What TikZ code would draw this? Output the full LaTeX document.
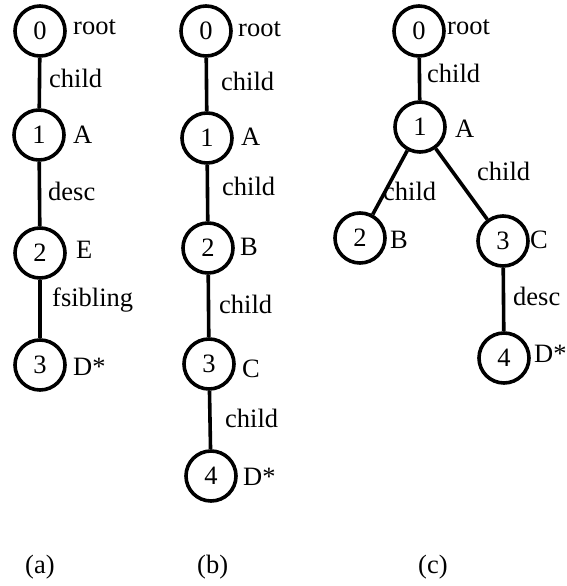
\documentclass[tikz,border=0pt]{standalone}
\usepackage{fontspec}
\setmainfont{Liberation Serif}
\begin{document}
\begin{tikzpicture}[x=1pt,y=-1pt,
  every node/.style={font=\fontsize{26.5}{30}\selectfont},
  vtx/.style={circle,draw,line width=3.6pt,minimum size=50pt,inner sep=0pt},
  lbl/.style={anchor=base west,inner sep=0pt},
  link/.style={line width=3.6pt}]
\useasboundingbox (0,0) rectangle (566,586);

% (a): root -child- A -desc- E -fsibling- D*
\node[vtx] (a0) at (40,31) {0};
\node[vtx] (a1) at (39,135) {1};
\node[vtx] (a2) at (40,253) {2};
\node[vtx] (a3) at (40,365) {3};
\draw[link] (a0) -- (a1);
\draw[link] (a1) -- (a2);
\draw[link] (a2) -- (a3);
\node[lbl] (a0t) at (73,35) {root};
\node[lbl] (a01) at (49,87) {child};
\node[lbl] (a1t) at (73,143) {A};
\node[lbl] (a12) at (48,200) {desc};
\node[lbl] (a2t) at (76,258) {E};
\node[lbl] (a23) at (52,306) {fsibling};
\node[lbl] (a3t) at (73,375) {D*};
\node[lbl] (capa) at (25,573) {(a)};

% (b): a chain of child edges
\node[vtx] (b0) at (206,31) {0};
\node[vtx] (b1) at (207,138) {1};
\node[vtx] (b2) at (208,248) {2};
\node[vtx] (b3) at (209,364) {3};
\node[vtx] (b4) at (211,476) {4};
\draw[link] (b0) -- (b1);
\draw[link] (b1) -- (b2);
\draw[link] (b2) -- (b3);
\draw[link] (b3) -- (b4);
\node[lbl] (b0t) at (238,37) {root};
\node[lbl] (b01) at (221,90) {child};
\node[lbl] (b1t) at (241,145) {A};
\node[lbl] (b12) at (222,195) {child};
\node[lbl] (b2t) at (240,255) {B};
\node[lbl] (b23) at (219,313) {child};
\node[lbl] (b3t) at (242,377) {C};
\node[lbl] (b34) at (225,427) {child};
\node[lbl] (b4t) at (243,485) {D*};
\node[lbl] (capb) at (197,573) {(b)};

% (c): branching tree
\node[vtx] (c0) at (419,31) {0};
\node[vtx] (c1) at (420,127) {1};
\node[vtx] (c2) at (360,238) {2};
\node[vtx] (c3) at (503,241) {3};
\node[vtx] (c4) at (504,358) {4};
\draw[link] (c0) -- (c1);
\draw[link] (c1) -- (c2);
\draw[link] (c1) -- (c3);
\draw[link] (c3) -- (c4);
\node[lbl] (c0t) at (447,35) {root};
\node[lbl] (c01) at (427,82) {child};
\node[lbl] (c1t) at (455,137) {A};
\node[lbl] (c12) at (383,200) {child};
\node[lbl] (c13) at (477,180) {child};
\node[lbl] (c2t) at (390,248) {B};
\node[lbl] (c3t) at (530,248) {C};
\node[lbl] (c34) at (513,305) {desc};
\node[lbl] (c4t) at (534,362) {D*};
\node[lbl] (capc) at (418,573) {(c)};
\end{tikzpicture}
\end{document}
